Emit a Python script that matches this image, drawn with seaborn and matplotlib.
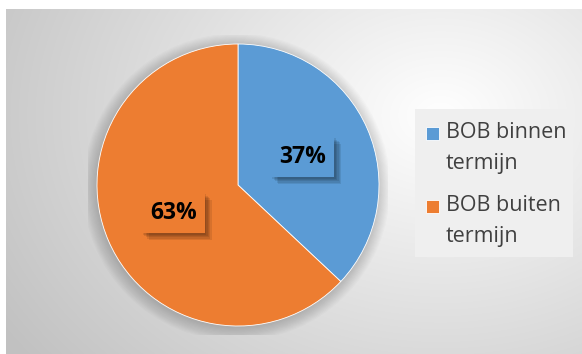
import numpy as np
import matplotlib
matplotlib.use("Agg")
import matplotlib.pyplot as plt
import seaborn as sns
from matplotlib.patches import Circle, Rectangle
from matplotlib.legend_handler import HandlerPatch
import matplotlib.patheffects as pe

categories = ["BOB binnen\ntermijn", "BOB buiten\ntermijn"]
values = [37, 63]
colors = ["#5B9BD5", "#ED7D31"]

sns.set_theme(style="white")
plt.rcParams["font.family"] = ["Open Sans", "DejaVu Sans"]

W, H = 582, 354
fig = plt.figure(figsize=(W / 100, H / 100), dpi=100)
fig.patch.set_facecolor("white")

# background radial gradient (chart area)
bg = fig.add_axes([6 / W, 0, 1 - 6 / W, (H - 9) / H])
bw, bh = W - 6, H - 9
yy, xx = np.mgrid[0:bh, 0:bw]
cx, cy = 440 - 6, 115 - 9
d = np.sqrt(((xx - cx) / 430.0) ** 2 + ((yy - cy) / 330.0) ** 2)
val = 1.0 - 0.20 * np.clip(d, 0, 1.2)
img = np.dstack([val, val, val])
bg.imshow(img, aspect="auto", interpolation="bilinear")
bg.set_axis_off()

# pie axes: center (238,185) px, radius 141 px
half = 150
ax = fig.add_axes([(238 - half) / W, (H - 185 - half) / H, 2 * half / W, 2 * half / H])
ax.set_axis_off()

# soft shadow around the pie
for r in np.linspace(1.0, 1.09, 12):
    ax.add_patch(Circle((-0.01, -0.015), r, facecolor="black", alpha=0.016, edgecolor="none", zorder=0))

wedges, texts, autotexts = ax.pie(
    values, colors=colors, startangle=90, counterclock=False,
    autopct=lambda p: f"{p:.0f}%", pctdistance=0.5, radius=1.0,
    wedgeprops=dict(linewidth=0.6, edgecolor="white"),
    textprops=dict(fontsize=16.5, fontweight="bold", color="black"),
)
lim = half / 141.0
ax.set_xlim(-lim, lim)
ax.set_ylim(-lim, lim)

for t, c in zip(autotexts, colors):
    t.set_bbox(dict(boxstyle="square,pad=0.36", facecolor=c, edgecolor="none"))
    effects = [pe.SimplePatchShadow(offset=(o, -o), shadow_rgbFace="black", alpha=0.09)
               for o in (1, 2, 3, 4, 5)]
    t.get_bbox_patch().set_path_effects(effects + [pe.Normal()])

# legend panel
fig.patches.append(Rectangle((415 / W, 1 - 257 / H), (573 - 415) / W, (257 - 109) / H,
                             transform=fig.transFigure, facecolor="#efefef",
                             edgecolor="none", zorder=1))

def make_square(legend, orig_handle, xdescent, ydescent, width, height, fontsize):
    return Rectangle((xdescent, ydescent + height * 1.15), width, width)

leg = fig.legend(
    wedges, categories, loc="upper left",
    bbox_to_anchor=(426 / W, 1 - 122 / H), bbox_transform=fig.transFigure,
    frameon=False, fontsize=15.5, handlelength=0.62, handleheight=0.62,
    handletextpad=0.3, labelspacing=1.0, borderpad=0, borderaxespad=0,
    labelcolor="#404040",
    handler_map={w: HandlerPatch(patch_func=make_square) for w in wedges},
)
for t in leg.get_texts():
    t.set_linespacing(1.6)

fig.savefig("out.png", dpi=100)
